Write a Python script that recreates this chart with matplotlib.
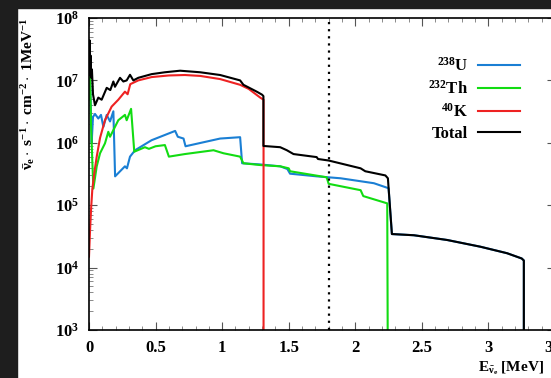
import numpy as np
import matplotlib
matplotlib.use("Agg")
import matplotlib.pyplot as plt
from matplotlib.patches import Rectangle
from matplotlib.ticker import MultipleLocator, LogLocator

plt.rcParams['font.family'] = ['Liberation Serif', 'DejaVu Serif']
plt.rcParams['font.weight'] = 'bold'
plt.rcParams['mathtext.fontset'] = 'custom'
plt.rcParams['mathtext.rm'] = 'Liberation Serif:bold'
plt.rcParams['mathtext.bf'] = 'Liberation Serif:bold'
plt.rcParams['mathtext.it'] = 'Liberation Serif:bold:italic'
plt.rcParams['mathtext.default'] = 'bf'

# K-40 spectrum
k_e = [0, 0.008, 0.016, 0.025, 0.04, 0.058, 0.083, 0.12, 0.17, 0.22, 0.27, 0.29,
       0.31, 0.37, 0.47, 0.6, 0.72, 0.835, 0.985, 1.135, 1.2, 1.286, 1.311, 1.311]
k_v = [1.5e4, 4e4, 9e4, 1.8e5, 3.3e5, 6e5, 1.2e6, 2.3e6, 3.8e6, 4.9e6, 6.6e6, 6.0e6,
       8.7e6, 1.0e7, 1.13e7, 1.2e7, 1.22e7, 1.18e7, 1.05e7, 8.5e6, 7.3e6, 5.3e6, 4.9e6, 1e2]

# part shared by U-238 and total above 2.27 MeV
tail_e = [2.275, 2.44, 2.69, 2.94, 3.14, 3.25, 3.266, 3.266]
tail_v = [3.45e4, 3.3e4, 2.77e4, 2.16e4, 1.7e4, 1.4e4, 1.3e4, 1e2]

# U-238 chain
u_e = [0, 0.008, 0.02, 0.03, 0.045, 0.07, 0.09, 0.108, 0.133, 0.158, 0.183, 0.196,
       0.27, 0.285, 0.308, 0.346, 0.47, 0.647, 0.667, 0.71, 0.725, 0.985, 1.135, 1.15,
       1.286, 1.436, 1.49, 1.51, 1.71, 1.89, 2.14, 2.25] + tail_e
u_v = [8e6, 1.1e7, 1.0e6, 2.6e6, 2.9e6, 2.45e6, 2.8e6, 1.8e6, 2.8e6, 2.2e6, 3.2e6, 2.9e5,
       4.2e5, 3.9e5, 6e5, 7.6e5, 1.1e6, 1.55e6, 1.25e6, 1.17e6, 8.8e5, 1.17e6, 1.23e6, 4.7e5,
       4.5e5, 4.2e5, 3.8e5, 3.2e5, 2.9e5, 2.7e5, 2.25e5, 1.87e5] + tail_v

# Th-232 chain
th_e = [0, 0.008, 0.015, 0.025, 0.033, 0.058, 0.083, 0.12, 0.145, 0.158, 0.22, 0.27,
        0.283, 0.316, 0.34, 0.42, 0.45, 0.5, 0.57, 0.6, 0.72, 0.935, 1.01, 1.135, 1.16,
        1.286, 1.436, 1.5, 1.51, 1.70, 1.785, 1.80, 2.04, 2.06, 2.24, 2.245]
th_v = [5e6, 1.3e7, 2e6, 5e5, 1.85e5, 4.2e5, 6.8e5, 9.8e5, 1.5e6, 1.25e6, 2.3e6, 2.8e6,
        2.3e6, 3.5e6, 7.2e5, 8.5e5, 8.0e5, 8.8e5, 9.2e5, 6.0e5, 6.6e5, 7.6e5, 6.8e5, 6.0e5, 4.7e5,
        4.4e5, 4.2e5, 3.9e5, 3.5e5, 3.0e5, 2.8e5, 2.2e5, 1.74e5, 1.4e5, 1.07e5, 1e2]

# total
tot_e = [0, 0.004, 0.008, 0.012, 0.017, 0.022, 0.03, 0.045, 0.07, 0.095, 0.133, 0.16,
         0.183, 0.195, 0.233, 0.258, 0.283, 0.308, 0.333, 0.37, 0.47, 0.57, 0.684, 0.835,
         0.985, 1.135, 1.16, 1.26, 1.30, 1.31, 1.31, 1.436, 1.486, 1.536, 1.71, 1.72, 1.8,
         2.04, 2.075, 2.226, 2.245] + tail_e
tot_v = [1.5e7, 4.4e7, 1.2e7, 2.5e7, 1.1e7, 1.5e7, 6e6, 4e6, 5.3e6, 4.9e6, 7.6e6, 7.0e6,
         9.6e6, 7.9e6, 1.1e7, 9.6e6, 1.0e7, 1.23e7, 1.0e7, 1.1e7, 1.26e7, 1.35e7, 1.43e7, 1.35e7,
         1.22e7, 1.0e7, 8.5e6, 6.6e6, 5.9e6, 5.6e6, 8.9e5, 8.5e5, 7.6e5, 6.6e5, 5.9e5, 5.5e5, 5.2e5,
         3.9e5, 3.5e5, 3.0e5, 2.7e5] + tail_v

threshold = 1.8

fig = plt.figure(figsize=(5.51, 3.78), dpi=100)
# dark frame of the screenshot
fig.patches.append(Rectangle((0, 0), 17/551, 1, transform=fig.transFigure, color='#1e1e1e', zorder=0))
fig.patches.append(Rectangle((0, 1-8/378), 1, 8/378, transform=fig.transFigure, color='#1e1e1e', zorder=0))

ax = fig.add_axes([89/551, 48/378, 466/551, 312/378])
ax.plot(u_e, u_v, color='#1a7fd4', lw=1.5, label=r'$^{238}$U')
ax.plot(th_e, th_v, color='#12dc12', lw=1.5, label=r'$^{232}$Th')
ax.plot(k_e, k_v, color='#ee2222', lw=1.5, label=r'$^{40}$K')
ax.plot(tot_e, tot_v, color='black', lw=1.5, label='Total')
ax.axvline(threshold, color='black', ls=(0, (1, 2.2)), lw=1.6)

ax.set_yscale('log')
ax.set_xlim(0, 3.5)
ax.set_ylim(1e3, 1e8)
ax.xaxis.set_major_locator(MultipleLocator(0.5))
ax.xaxis.set_minor_locator(MultipleLocator(0.1))
ax.yaxis.set_minor_locator(LogLocator(base=10, subs=np.arange(2, 10)))
ax.tick_params(which='both', direction='in', top=True, right=True, labelsize=12, pad=7)
ax.tick_params(which='major', length=6, width=0.8, color='#555555')
ax.tick_params(which='minor', length=3, width=0.6, color='#777777')
ax.set_xticks([0, 0.5, 1, 1.5, 2, 2.5, 3, 3.5])
ax.set_xticklabels(['0', '0.5', '1', '1.5', '2', '2.5', '3', '3.5'])
for s in ax.spines.values():
    s.set_linewidth(1.2)

fig.text(28/551, 1-18/378, r'$\bar{\nu}_e\cdot$ s$^{-1}\cdot$ cm$^{-2}\cdot$ 1MeV$^{-1}$',
         rotation=90, ha='center', va='top', fontsize=11)
fig.text(478/551, 1-368/378, r'E$_{\bar{\nu}_e}$ [MeV]', ha='left', va='center', fontsize=11)

leg = ax.legend(loc='upper right', bbox_to_anchor=(0.957, 0.923), frameon=False, markerfirst=False,
                fontsize=12, handlelength=2.5, handletextpad=0.6, labelspacing=0.3)

fig.savefig('out.png', dpi=100)
